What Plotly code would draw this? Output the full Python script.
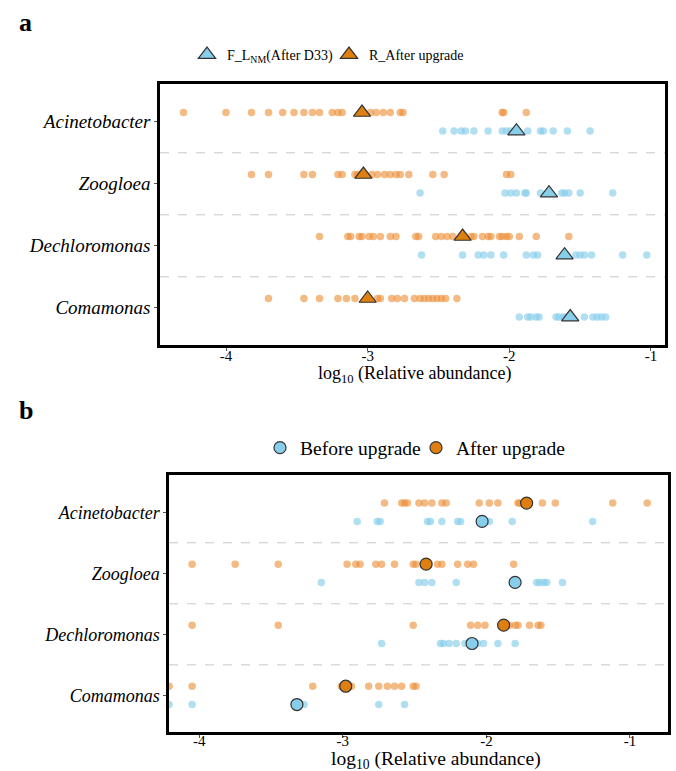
import plotly.graph_objects as go

W, H = 676, 771

categories = ["Acinetobacter", "Zoogloea", "Dechloromonas", "Comamonas"]
cat_y = [4, 3, 2, 1]

# ---------------- Panel a data (log10 relative abundance) ----------------
a_R_after_upgrade = [
    [-4.30, -4.00, -3.82, -3.70, -3.60, -3.52, -3.45, -3.39, -3.34, -3.25, -3.21, -3.18,
     -2.98, -2.94, -2.89, -2.84, -2.77, -2.75, -2.05, -2.04, -1.88],
    [-3.82, -3.70, -3.45, -3.39, -3.21, -3.18, -3.09, -3.07, -2.97, -2.93, -2.88, -2.84,
     -2.80, -2.77, -2.71, -2.54, -2.46, -2.02, -1.99],
    [-3.34, -3.14, -3.12, -3.06, -3.04, -2.99, -2.96, -2.91, -2.84, -2.80, -2.66, -2.64,
     -2.52, -2.48, -2.44, -2.40, -2.27, -2.25, -2.19, -2.15, -2.13, -2.07, -2.05, -2.02,
     -2.00, -1.93, -1.81, -1.58],
    [-3.70, -3.45, -3.34, -3.21, -3.15, -3.09, -2.93, -2.91, -2.83, -2.79, -2.74, -2.67,
     -2.63, -2.60, -2.57, -2.54, -2.51, -2.48, -2.45, -2.37],
]
a_F_LNM_after_D33 = [
    [-2.47, -2.39, -2.34, -2.31, -2.25, -2.15, -2.05, -2.02, -1.99, -1.87, -1.78, -1.76,
     -1.69, -1.59, -1.43],
    [-2.63, -2.03, -1.99, -1.95, -1.89, -1.88, -1.78, -1.63, -1.61, -1.58, -1.50, -1.27],
    [-2.62, -2.33, -2.22, -2.18, -2.13, -2.04, -1.88, -1.83, -1.80, -1.53, -1.50, -1.47,
     -1.42, -1.20, -1.03],
    [-1.93, -1.87, -1.85, -1.81, -1.79, -1.67, -1.65, -1.62, -1.60, -1.47, -1.41, -1.38,
     -1.35, -1.32],
]
a_R_mean = [-3.04, -3.03, -2.33, -3.00]
a_F_mean = [-1.95, -1.72, -1.61, -1.57]

# ---------------- Panel b data ----------------
b_after_upgrade = [
    [-2.71, -2.59, -2.57, -2.55, -2.47, -2.43, -2.38, -2.31, -2.28, -2.05, -1.98, -1.92,
     -1.78, -1.77, -1.61, -1.52, -1.12, -0.88],
    [-4.05, -3.75, -3.45, -2.97, -2.91, -2.88, -2.77, -2.73, -2.64, -2.51, -2.49, -2.34,
     -2.31, -2.20, -2.13, -2.09, -1.81],
    [-4.05, -3.45, -2.51, -2.11, -2.06, -2.01, -1.84, -1.80, -1.78, -1.70, -1.64, -1.62],
    [-4.21, -4.05, -3.21, -3.01, -2.94, -2.82, -2.75, -2.69, -2.64, -2.59, -2.51, -2.49],
]
b_before_upgrade = [
    [-2.90, -2.76, -2.74, -2.41, -2.39, -2.31, -2.20, -2.18, -1.98, -1.82, -1.26],
    [-3.15, -2.47, -2.43, -2.38, -2.21, -1.65, -1.63, -1.60, -1.58, -1.47],
    [-2.73, -2.32, -2.30, -2.26, -2.21, -2.15, -2.06, -2.02, -1.92, -1.80],
    [-4.21, -4.05, -3.27, -2.75, -2.57],
]
b_after_mean = [-1.72, -2.42, -1.88, -2.98]
b_before_mean = [-2.03, -1.80, -2.10, -3.32]

tick_vals = [-4, -3, -2, -1]
tick_text = ["-4", "-3", "-2", "-1"]
x_title = "log<sub>10</sub> (Relative abundance)"

ORANGE = "#DE7F0F"
BLUE = "#87CEEB"
DOT_ORANGE = "rgba(236,140,50,0.6)"
DOT_BLUE = "rgba(135,206,235,0.65)"
SERIF = "Liberation Serif"
OFF = 0.15


def flat(groups, offset):
    xs, ys = [], []
    for g, yc in zip(groups, cat_y):
        xs += g
        ys += [yc + offset] * len(g)
    return xs, ys


fig = go.Figure()

# Panel a dots
for groups, off, col in [(a_R_after_upgrade, OFF, DOT_ORANGE), (a_F_LNM_after_D33, -OFF, DOT_BLUE)]:
    xs, ys = flat(groups, off)
    fig.add_trace(go.Scatter(x=xs, y=ys, mode="markers", xaxis="x", yaxis="y",
                             marker=dict(size=7.5, color=col, line=dict(width=0)),
                             showlegend=False, hoverinfo="x"))
# Panel a means
fig.add_trace(go.Scatter(x=a_F_mean, y=[c - OFF for c in cat_y], mode="markers",
                         xaxis="x", yaxis="y", name="F_L<sub>NM</sub>(After D33)",
                         legend="legend",
                         marker=dict(symbol="triangle-up", size=15, color=BLUE,
                                     line=dict(width=1.2, color="#333333"))))
fig.add_trace(go.Scatter(x=a_R_mean, y=[c + OFF for c in cat_y], mode="markers",
                         xaxis="x", yaxis="y", name="R_After upgrade",
                         legend="legend",
                         marker=dict(symbol="triangle-up", size=15, color=ORANGE,
                                     line=dict(width=1.2, color="#333333"))))

# Panel b dots
for groups, off, col in [(b_after_upgrade, OFF, DOT_ORANGE), (b_before_upgrade, -OFF, DOT_BLUE)]:
    xs, ys = flat(groups, off)
    fig.add_trace(go.Scatter(x=xs, y=ys, mode="markers", xaxis="x2", yaxis="y2",
                             marker=dict(size=7.5, color=col, line=dict(width=0)),
                             showlegend=False, hoverinfo="x"))
fig.add_trace(go.Scatter(x=b_before_mean, y=[c - OFF for c in cat_y], mode="markers",
                         xaxis="x2", yaxis="y2", name="Before upgrade", legend="legend2",
                         marker=dict(symbol="circle", size=12, color=BLUE,
                                     line=dict(width=1.2, color="#333333"))))
fig.add_trace(go.Scatter(x=b_after_mean, y=[c + OFF for c in cat_y], mode="markers",
                         xaxis="x2", yaxis="y2", name="After upgrade", legend="legend2",
                         marker=dict(symbol="circle", size=12, color=ORANGE,
                                     line=dict(width=1.2, color="#333333"))))

ytext = ["<i>%s</i>" % c for c in categories]

xcommon = dict(tickvals=tick_vals, ticktext=tick_text, ticks="outside", ticklen=3,
               tickwidth=1, tickcolor="#555555", showline=True, mirror=True,
               linewidth=2.5, linecolor="black", showgrid=False, zeroline=False,
               tickfont=dict(family=SERIF, size=15, color="black"))
ycommon = dict(tickvals=cat_y, ticktext=ytext, ticks="outside", ticklen=3,
               tickwidth=1, tickcolor="#555555", showline=True, mirror=True,
               linewidth=2.5, linecolor="black", showgrid=False, zeroline=False,
               range=[0.4, 4.61])

shapes = []
for yref, xref in [("y", "x domain"), ("y2", "x2 domain")]:
    for yv in [3.5, 2.5, 1.5]:
        shapes.append(dict(type="line", xref=xref, x0=0, x1=1, yref=yref, y0=yv, y1=yv,
                           line=dict(color="#c8c8c8", width=1, dash="dash"), layer="below"))

fig.update_layout(
    width=W, height=H, margin=dict(l=0, r=0, t=0, b=0),
    plot_bgcolor="white", paper_bgcolor="white",
    xaxis=dict(domain=[160 / W, 665 / W], anchor="y", range=[-4.466, -0.901],
               ticklabelstandoff=-8, **xcommon),
    yaxis=dict(domain=[1 - 345 / H, 1 - 84 / H], anchor="x",
               tickfont=dict(family=SERIF, size=19, color="black"), **ycommon),
    xaxis2=dict(domain=[169 / W, 668 / W], anchor="y2", range=[-4.211, -0.735],
                ticklabelstandoff=-10, **xcommon),
    yaxis2=dict(domain=[1 - 732 / H, 1 - 475 / H], anchor="x2",
                tickfont=dict(family=SERIF, size=18, color="black"), **ycommon),
    shapes=shapes,
    legend=dict(orientation="h", x=187 / W, y=1 - 55 / H, xanchor="left", yanchor="middle",
                font=dict(family=SERIF, size=14, color="black"), bgcolor="rgba(0,0,0,0)",
                itemwidth=30, entrywidth=97, entrywidthmode="pixels"),
    legend2=dict(orientation="h", x=260 / W, y=1 - 448 / H, xanchor="left", yanchor="middle",
                 font=dict(family=SERIF, size=19.5, color="black"), bgcolor="rgba(0,0,0,0)",
                 itemwidth=30, entrywidth=111, entrywidthmode="pixels"),
    annotations=[
        dict(text="<b>a</b>", x=17 / W, y=1 - 22 / H, xref="paper", yref="paper",
             xanchor="left", yanchor="middle", showarrow=False,
             font=dict(family=SERIF, size=26, color="black")),
        dict(text="<b>b</b>", x=17 / W, y=1 - 410 / H, xref="paper", yref="paper",
             xanchor="left", yanchor="middle", showarrow=False,
             font=dict(family=SERIF, size=26, color="black")),
        dict(text=x_title, x=415 / W, y=1 - 374 / H, xref="paper", yref="paper",
             xanchor="center", yanchor="middle", showarrow=False,
             font=dict(family=SERIF, size=18, color="black")),
        dict(text=x_title, x=436 / W, y=1 - 760 / H, xref="paper", yref="paper",
             xanchor="center", yanchor="middle", showarrow=False,
             font=dict(family=SERIF, size=19.5, color="black")),
    ],
)

fig.write_html("out.html")
